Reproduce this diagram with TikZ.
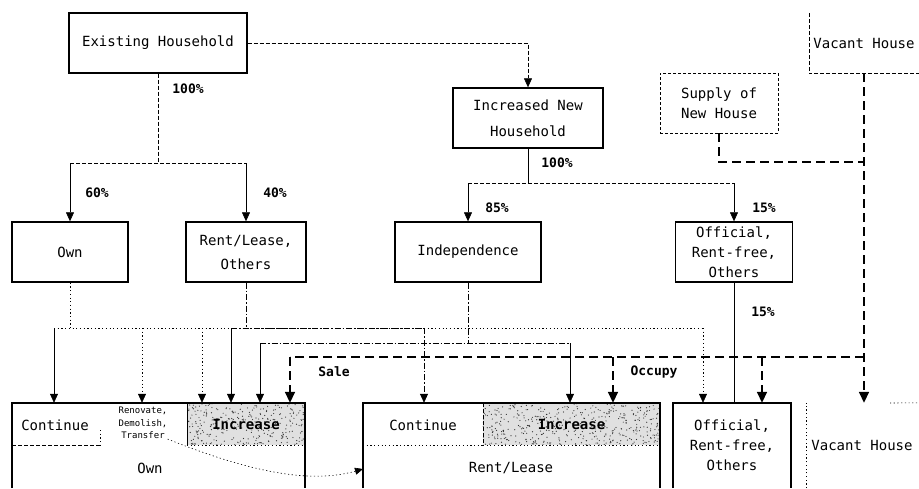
\documentclass[tikz,border=0pt]{standalone}
\usepackage{fontspec}
\newfontfamily\twf{DejaVu Sans Mono}
\usetikzlibrary{arrows.meta,calc}
\begin{document}
\begin{tikzpicture}[x=1pt,y=-1pt,
  font=\twf\fontsize{14}{20}\selectfont,
  bx/.style={draw,line width=1.4pt,minimum height=60pt,inner sep=0pt,align=center},
  dbx/.style={draw,line width=0.6pt,dash pattern=on 3pt off 2pt,minimum height=60pt,inner sep=0pt,align=center},
  area/.style={minimum height=85pt,inner sep=0pt,align=center},
  pct/.style={font=\twf\bfseries\fontsize{13}{16}\selectfont,inner sep=1pt},
  arr/.style={-{Triangle[length=9pt,width=8pt]}},
  arrL/.style={-{Triangle[length=11pt,width=10pt]}},
  thn/.style={line width=0.6pt},
  dsh/.style={line width=0.6pt,dash pattern=on 4pt off 2pt},
  dtt/.style={line width=0.6pt,dash pattern=on 1.2pt off 2.5pt},
  ddt/.style={line width=0.7pt,dash pattern=on 6pt off 2pt on 1.5pt off 2pt},
  thk/.style={line width=1.7pt,dash pattern=on 9pt off 5pt},
  edge/.style={line width=1.6pt},
  incfill/.style={minimum height=42pt,inner sep=0pt,fill=black!12},
  inctxt/.style={font=\twf\bfseries\fontsize{14}{16}\selectfont},
]
\useasboundingbox (0,0) rectangle (919,488);

% ---------- top boxes ----------
\node[bx,minimum width=178pt] (exist) at (158,43) {Existing Household};
\node[bx,minimum width=150pt] (inh) at (528,118) {Increased New\\[6pt]Household};
\node[dbx,minimum width=118pt] (supply) at (719,103) {Supply of\\New House};
\node[minimum width=110pt,minimum height=60pt,inner sep=0pt] (vacT) at (864,43) {Vacant House};
\draw[dsh] (vacT.north west) -- (vacT.south west) -- (vacT.south east);

\node[bx,minimum width=116pt] (own) at (70,252) {Own};
\node[bx,minimum width=120pt] (rlo) at (246,252) {Rent/Lease,\\[4pt]Others};
\node[bx,minimum width=146pt] (indep) at (468,252) {Independence};
\node[bx,minimum width=117pt] (offT) at (734,252) {Official,\\Rent-free,\\Others};

% ---------- bottom areas ----------
\node[area,minimum width=293pt] (ownB) at (158.5,445.5) {};
\node[area,minimum width=297pt] (rentB) at (511.5,445.5) {};
\node[area,minimum width=118pt] (offB) at (732,445.5) {Official,\\Rent-free,\\Others};
\node[area,minimum width=112pt] (vacB) at (862,445.5) {Vacant House};

% stippled Increase parts
\node[incfill,minimum width=118pt] (incO) at (246,424) {};
\node[incfill,minimum width=177pt] (incR) at (571.5,424) {};
\pgfmathsetseed{42}
\foreach \k in {1,...,300}{\fill[black!80] ({187+118*rnd},{403+42*rnd}) circle[radius=0.6pt];}
\foreach \k in {1,...,450}{\fill[black!80] ({483+177*rnd},{403+42*rnd}) circle[radius=0.6pt];}
\draw[thn] (incO.north west) -- (incO.south west);
\draw[dtt] (incO.south west) -- (incO.south east);
\draw[dsh] (incR.north west) -- (incR.south west);
\draw[dtt] (incR.south west) -- (incR.south east);
\node[inctxt] (incOt) at (incO) {Increase};
\node[inctxt] (incRt) at (incR) {Increase};

% outlines of bottom areas
\draw[edge] (ownB.south west) -- (ownB.north west) -- (ownB.north east) -- (ownB.south east);
\draw[edge] (rentB.south west) -- (rentB.north west) -- (rentB.north east) -- (rentB.south east);
\draw[edge] (offB.south west) -- (offB.north west) -- (offB.north east) -- (offB.south east);
\draw[dtt] (vacB.south west) -- (vacB.north west);
\draw[dtt] (890,403) -- (vacB.north east);

% inner texts and dividers
\node (contO) at (55,425) {Continue};
\draw[dsh] (12,445) -- (100,445);
\draw[dtt] (100,430) -- (100,445);
\node[font=\twf\fontsize{9}{12.5}\selectfont,align=center,inner sep=0pt] (ren) at (143,423) {Renovate,\\Demolish,\\Transfer};
\node (ownL) at (150,468) {Own};
\node (contR) at (423,425) {Continue};
\draw[dtt] (363,445) -- (483,445);
\node (rentL) at (511,468) {Rent/Lease};

% ---------- connectors ----------
\draw[dsh,arr] (exist.east) -| (inh.north);

\coordinate (j1) at (158,163);
\draw[dsh] (exist.south) -- (j1);
\draw[dsh] (own.north |- j1) -- (rlo.north |- j1);
\draw[thn,arr] (own.north |- j1) -- (own.north);
\draw[thn,arr] (rlo.north |- j1) -- (rlo.north);

\coordinate (j2) at (528,183);
\draw[thn] (inh.south) -- (j2);
\draw[dsh] (indep.north |- j2) -- (offT.north |- j2);
\draw[thn,arr] (indep.north |- j2) -- (indep.north);
\draw[thn,arr] (offT.north |- j2) -- (offT.north);

% Own -> bottom
\coordinate (oL) at (54,328);
\coordinate (oR) at (703,328);
\coordinate (o2) at (142,328);
\coordinate (o3) at (202,328);
\draw[dtt] (own.south) -- (own.south |- oL);
\draw[dtt] (oL) -- (oR);
\draw[thn,arr] (oL) -- (oL |- ownB.north);
\draw[dtt,arr] (o2) -- (o2 |- ownB.north);
\draw[dtt,arr] (o3) -- (o3 |- ownB.north);
\draw[dtt,arr] (oR) -- (oR |- offB.north);

% Rent/Lease, Others -> bottom
\coordinate (rL) at (231,328);
\coordinate (rR) at (424,328);
\draw[ddt] (rlo.south) -- (rlo.south |- rL);
\draw[ddt] (rL) -- (rR);
\draw[thn,arr] (rL) -- (rL |- ownB.north);
\draw[ddt,arr] (rR) -- (rR |- rentB.north);

% Independence -> bottom
\coordinate (iL) at (260,343);
\coordinate (iR) at (570,343);
\draw[ddt] (indep.south) -- (indep.south |- iL);
\draw[ddt] (iL) -- (iR);
\draw[thn,arr] (iL) -- (iL |- ownB.north);
\draw[thn,arr] (iR) -- (iR |- rentB.north);

% Official top -> bottom
\draw[thn] (offT.south) -- (offT.south |- offB.north);

% supply / vacant (thick dashed)
\coordinate (jv) at (864,162);
\draw[thk] (supply.south) -- (supply.south |- jv) -- (jv);
\draw[thk,arrL] (vacT.south) -- (vacT.south |- vacB.north);
\coordinate (sR) at (864,357);
\coordinate (sL) at (290,357);
\coordinate (sM) at (613,357);
\coordinate (sO) at (762,357);
\draw[thk] (sR) -- (sL);
\draw[thk,arrL] (sL) -- (sL |- ownB.north);
\draw[thk,arrL] (sM) -- (sM |- rentB.north);
\draw[thk,arrL] (sO) -- (sO |- offB.north);

% transfer curve
\coordinate (rentIn) at (363,469);
\draw[dtt,-{Triangle[length=8pt,width=7pt]}] (ren.south east) .. controls (250,472) and (310,484) .. (rentIn);

% ---------- labels ----------
\node[pct] (l1) at (188,89) {100\%};
\node[pct] (l2) at (97,193) {60\%};
\node[pct] (l3) at (275,193) {40\%};
\node[pct] (l4) at (557,163) {100\%};
\node[pct] (l5) at (497,208) {85\%};
\node[pct] (l6) at (764,208) {15\%};
\node[pct] (l7) at (763,312) {15\%};
\node[pct] (sale) at (334,372) {Sale};
\node[pct] (occ) at (654,372) {Occupy};
\end{tikzpicture}
\end{document}
